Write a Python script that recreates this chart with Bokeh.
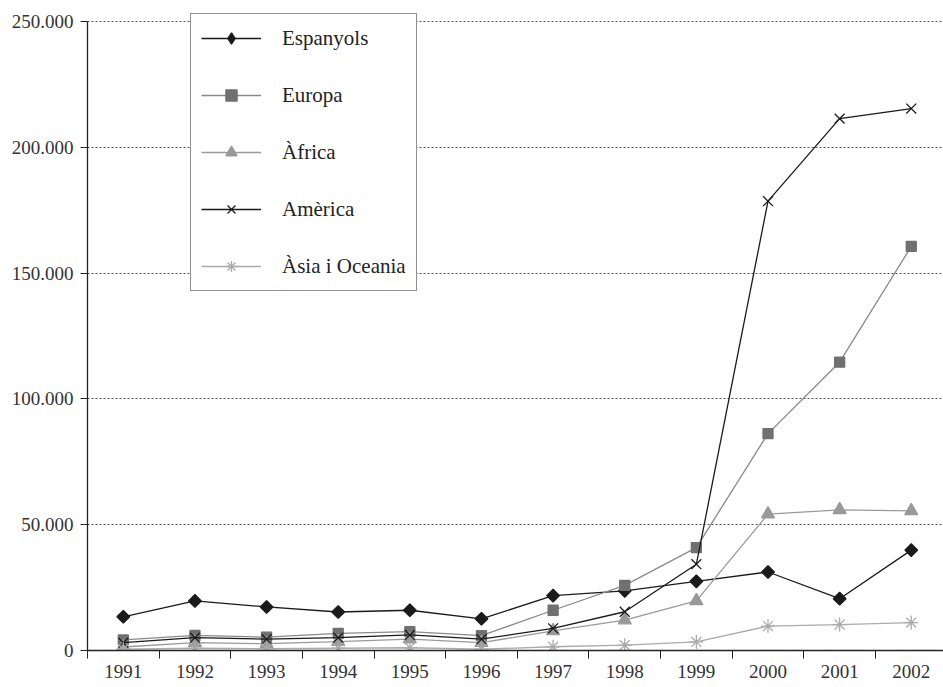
import math
from bokeh.plotting import figure
from bokeh.models import Range1d, FixedTicker, Legend, LegendItem
from bokeh.embed import file_html
from bokeh.resources import INLINE

years = [1991, 1992, 1993, 1994, 1995, 1996, 1997, 1998, 1999, 2000, 2001, 2002]
espanyols = [13400, 19700, 17300, 15300, 16000, 12600, 21800, 23700, 27500, 31200, 20600, 39900]
europa = [4200, 6000, 5300, 6800, 7500, 5900, 16000, 25900, 40900, 86200, 114600, 160600]
africa = [1400, 3100, 2700, 3500, 4500, 3100, 7800, 12100, 19700, 54200, 55900, 55500]
america = [3100, 5100, 4500, 5100, 6200, 4500, 8800, 15400, 34300, 178600, 211400, 215400]
asia = [500, 900, 700, 900, 1100, 500, 1500, 2100, 3400, 9700, 10300, 11100]

series_names = ["Espanyols", "Europa", "\u00c0frica", "Am\u00e8rica", "\u00c0sia i Oceania"]
y_ticks = [0, 50000, 100000, 150000, 200000, 250000]
y_tick_labels = ["0", "50.000", "100.000", "150.000", "200.000", "250.000"]

FONT = "Liberation Serif"

p = figure(width=943, height=687, output_backend="svg", toolbar_location=None,
           x_range=Range1d(1990.5, 2002.45), y_range=Range1d(0, 253180),
           min_border_left=87, min_border_right=0, min_border_top=13, min_border_bottom=37)
p.outline_line_color = None
p.background_fill_color = "white"
p.border_fill_color = "white"

# x axis
p.xaxis.ticker = FixedTicker(ticks=years, minor_ticks=[y - 0.5 for y in years] + [years[-1] + 0.5])
p.xaxis.major_tick_line_color = None
p.xaxis.minor_tick_line_color = "#222222"
p.xaxis.minor_tick_out = 8
p.xaxis.minor_tick_in = 0
p.xaxis.axis_line_color = "#222222"
p.xaxis.axis_line_width = 1.3
p.xaxis.major_label_standoff = 6
p.xaxis.major_label_text_font = FONT
p.xaxis.major_label_text_font_size = "19px"
p.xaxis.major_label_text_color = "#333333"

# y axis
yt = FixedTicker(ticks=y_ticks, minor_ticks=[])
p.yaxis.ticker = yt
p.yaxis.bounds = (y_ticks[0], y_ticks[-1])
p.yaxis.major_label_overrides = {t: l for t, l in zip(y_ticks, y_tick_labels)}
p.yaxis.major_tick_out = 7
p.yaxis.major_tick_in = 0
p.yaxis.major_tick_line_color = "#222222"
p.yaxis.minor_tick_line_color = None
p.yaxis.axis_line_color = "#222222"
p.yaxis.axis_line_width = 1.3
p.yaxis.major_label_standoff = 7
p.yaxis.major_label_text_font = FONT
p.yaxis.major_label_text_font_size = "19px"
p.yaxis.major_label_text_color = "#333333"

p.xgrid.visible = False
p.ygrid.ticker = yt
p.ygrid.grid_line_color = "#555555"
p.ygrid.grid_line_dash = "2 2"
p.ygrid.grid_line_width = 1

styles = [
    dict(data=espanyols, line="#1a1a1a", marker="square", angle=math.pi / 4, size=9, fill="#1a1a1a", mline="#1a1a1a", lmarker="diamond"),
    dict(data=europa, line="#8a8a8a", marker="square", angle=0, size=10, fill="#707070", mline="#707070", lmarker="square"),
    dict(data=africa, line="#9a9a9a", marker="triangle", angle=0, size=13, fill="#999999", mline="#999999", lmarker="triangle"),
    dict(data=america, line="#1a1a1a", marker="x", angle=0, size=14, fill=None, mline="#1a1a1a", lmarker="x"),
    dict(data=asia, line="#ababab", marker="asterisk", angle=0, size=14, fill=None, mline="#aaaaaa", lmarker="asterisk"),
]

items = []
for name, st in zip(series_names, styles):
    lr = p.line(years, st["data"], line_color=st["line"], line_width=1.3)
    sr = p.scatter(years, st["data"], marker=st["marker"], size=st["size"], angle=st["angle"],
                   fill_color=st["fill"], line_color=st["mline"], line_width=1.3)
    if st["lmarker"] != st["marker"]:
        # legend-only marker shape (hidden in the plot itself)
        sr = p.scatter(years, st["data"], marker=st["lmarker"], size=st["size"],
                       fill_color=st["fill"], line_color=st["mline"], line_width=1.3, visible=False)
    items.append(LegendItem(label=name, renderers=[lr, sr]))

legend = Legend(items=items, location=(103, 359), orientation="vertical",
                border_line_color="#222222", border_line_width=1.2,
                background_fill_color="white", background_fill_alpha=1,
                label_text_font=FONT, label_text_font_size="21px", label_text_color="#222222",
                glyph_width=60, glyph_height=28, label_height=28, spacing=29, padding=10,
                label_standoff=21, margin=0, click_policy="none",
                inactive_fill_alpha=0)
p.add_layout(legend)

open("out.html", "w").write(file_html(p, INLINE))
